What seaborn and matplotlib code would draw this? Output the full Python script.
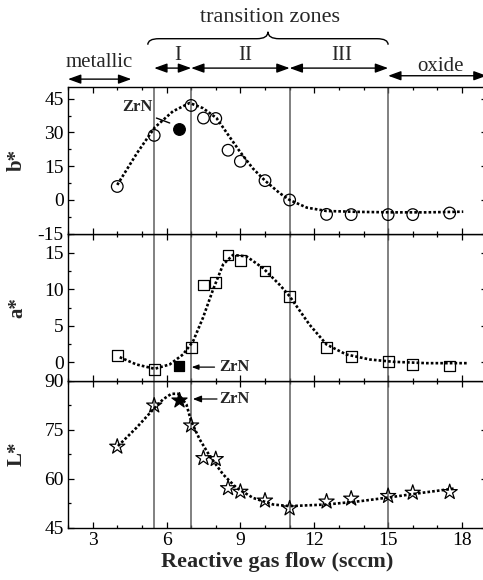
import matplotlib
matplotlib.use("Agg")
import matplotlib.pyplot as plt
import matplotlib.transforms as mtransforms
from matplotlib.path import Path
from matplotlib.patches import PathPatch
from matplotlib.ticker import MultipleLocator
import seaborn as sns

# measured colour coordinates vs reactive gas flow
flow = [4, 5.5, 7, 7.5, 8, 8.5, 9, 10, 11, 12.5, 13.5, 15, 16, 17.5]
b_star = [6.0, 28.7, 42.0, 36.4, 36.2, 22.1, 17.2, 8.6, 0.0, -6.4, -6.5, -6.5, -6.5, -5.8]
a_star = [0.9, -1.0, 2.0, 10.6, 10.9, 14.7, 13.9, 12.5, 9.0, 2.0, 0.8, 0.1, -0.3, -0.5]
L_star = [69.8, 82.4, 76.3, 66.3, 66.0, 57.1, 56.0, 53.3, 50.9, 53.0, 53.9, 54.7, 55.7, 55.9]

# ZrN reference sample
zrn_flow = [6.5]
zrn_b = [31.6]
zrn_a = [-0.5]
zrn_L = [84.2]

# dotted guide curves
b_fit_x = [4.0, 4.8, 5.52, 6.26, 6.94, 7.48, 8.03, 8.5, 8.98, 9.5, 10.0, 10.6, 11.0, 11.7, 12.5, 13.85, 15.2, 16.56, 18.05]
b_fit_y = [6.7, 20.8, 32.2, 39.4, 43.1, 40.8, 36.4, 29.0, 21.5, 14.1, 8.6, 3.0, 0.0, -3.4, -4.9, -5.3, -5.5, -5.5, -5.2]
a_fit_x = [4.1, 4.77, 5.52, 6.13, 6.67, 7.08, 7.48, 7.89, 8.3, 8.7, 9.25, 9.92, 10.6, 11.0, 11.8, 12.5, 13.3, 14.26, 15.2, 16.56, 18.2]
a_fit_y = [0.72, -0.27, -0.87, -0.27, 1.09, 2.9, 6.1, 9.96, 13.4, 14.7, 14.5, 12.9, 10.6, 9.05, 5.2, 2.45, 1.09, 0.4, 0.09, -0.1, -0.1]
L_fit_x = [4.03, 4.78, 5.52, 5.86, 6.2, 6.47, 6.81, 7.0, 7.35, 7.76, 8.3, 8.84, 9.52, 10.33, 11.0, 12.5, 13.85, 15.07, 16.3, 17.7]
L_fit_y = [70, 75.6, 81.7, 84.3, 86, 86, 82.7, 77.6, 72, 66.9, 61.3, 57.2, 54.1, 52.1, 51.6, 52.1, 53.1, 54.3, 55.6, 57]

# zone boundaries
zone_bounds = [5.5, 7, 11, 15]
x_ticks = [3, 6, 9, 12, 15, 18]

sns.set_style("ticks")
plt.rcParams["font.family"] = ["Liberation Serif", "DejaVu Serif"]
plt.rcParams["axes.unicode_minus"] = False

fig = plt.figure(figsize=(4.83, 5.8), dpi=100)
left, width, h = 0.1408, 0.8667, 0.2534
ax_L = fig.add_axes([left, 0.0902, width, h])
ax_a = fig.add_axes([left, 0.0902 + h, width, h])
ax_b = fig.add_axes([left, 0.0902 + 2 * h, width, h])

dots = dict(color="black", linewidth=1.9, linestyle=(0, (1, 0.8)), sort=False, estimator=None)
open_m = dict(facecolor="none", edgecolor="black", linewidth=0.9, legend=False)

panels = [
    (ax_b, b_fit_x, b_fit_y, b_star, zrn_b, "o", 70, "b*", (-15, 50.3), [-15, 0, 15, 30, 45], 7.5),
    (ax_a, a_fit_x, a_fit_y, a_star, zrn_a, "s", 60, "a*", (-2.5, 17.6), [0, 5, 10, 15], 2.5),
    (ax_L, L_fit_x, L_fit_y, L_star, zrn_L, "*", 130, "L*", (45, 90), [45, 60, 75, 90], 7.5),
]

for ax, fx, fy, vals, zv, mk, size, lab, ylim, yt, ymin in panels:
    for xb in zone_bounds:
        ax.axvline(xb, color="#5e5e5e", lw=1.1, zorder=1)
    sns.lineplot(x=fx, y=fy, ax=ax, zorder=2, **dots)
    sns.scatterplot(x=flow, y=vals, ax=ax, marker=mk, s=size, zorder=3, **open_m)
    sns.scatterplot(x=zrn_flow, y=zv, ax=ax, marker=mk, s=size, color="black",
                    edgecolor="black", linewidth=0.9, zorder=3, legend=False)
    ax.set_xlim(2, 19)
    ax.set_ylim(*ylim)
    ax.set_xticks(x_ticks)
    ax.set_yticks(yt)
    ax.xaxis.set_minor_locator(MultipleLocator(1))
    ax.yaxis.set_minor_locator(MultipleLocator(ymin))
    ax.tick_params(which="both", direction="in", top=True, right=True,
                   colors="black", width=0.9, labelsize=14, pad=3)
    ax.tick_params(which="major", length=4.5)
    ax.tick_params(which="minor", length=2.5)
    for sp in ax.spines.values():
        sp.set_color("black")
        sp.set_linewidth(1.0)
    ax.set_ylabel(lab, fontsize=15, fontweight="bold")
    ax.yaxis.set_label_coords(-0.098, 0.5)
    ax.set_xlabel("")

ax_b.tick_params(labelbottom=False)
ax_a.tick_params(labelbottom=False)
ax_L.set_xlabel("Reactive gas flow (sccm)", fontsize=16, fontweight="bold", labelpad=2)

# ZrN annotations
ax_b.text(4.81, 41.2, "ZrN", fontsize=12, fontweight="bold", ha="center", va="center")
ax_b.annotate("", xy=(6.13, 34.2), xytext=(5.59, 36.4),
              arrowprops=dict(arrowstyle="-", color="black", lw=1, shrinkA=0, shrinkB=0))
ax_a.text(8.15, -0.64, "ZrN", fontsize=12, fontweight="bold", ha="left", va="center")
ax_a.annotate("", xy=(7.02, -0.64), xytext=(7.95, -0.64),
              arrowprops=dict(arrowstyle="-|>,head_length=0.4,head_width=0.15", color="black",
                              lw=0.9, shrinkA=0, shrinkB=0))
ax_L.text(8.15, 84.4, "ZrN", fontsize=12, fontweight="bold", ha="left", va="center")
ax_L.annotate("", xy=(7.07, 84.4), xytext=(8.05, 84.4),
              arrowprops=dict(arrowstyle="-|>,head_length=0.5,head_width=0.2", color="black",
                              lw=0.9, shrinkA=0, shrinkB=0))

# zone arrows and labels above the top panel
tr = mtransforms.blended_transform_factory(ax_b.transData, ax_b.transAxes)
arrow_kw = dict(arrowstyle="<|-|>,head_length=0.55,head_width=0.2", color="black",
                lw=1.0, shrinkA=0, shrinkB=0, mutation_scale=14)

def zone_arrow(x0, x1, y):
    ax_b.annotate("", xy=(x1, y), xytext=(x0, y), xycoords=tr, textcoords=tr,
                  arrowprops=arrow_kw, annotation_clip=False)

zone_arrow(2.0, 4.57, 1.052)
zone_arrow(zone_bounds[0], zone_bounds[1], 1.127)
zone_arrow(zone_bounds[1], zone_bounds[2], 1.127)
zone_arrow(zone_bounds[2], zone_bounds[3], 1.127)
zone_arrow(zone_bounds[3], 19.0, 1.075)

for x, y, s in [(3.28, 1.165, "metallic"), (6.44, 1.21, "I"), (9.18, 1.21, "II"),
                (13.1, 1.21, "III"), (17.13, 1.14, "oxide")]:
    ax_b.text(x, y, s, transform=tr, fontsize=15, ha="center", va="center")

ax_b.text(10.2, 1.47, "transition zones", transform=tr, fontsize=16, ha="center", va="center")

# curly brace
x0, x1, xc = 5.24, 15.0, 10.12
y0, ym, yt = 1.286, 1.327, 1.374
d = 0.45
verts = [(x0, y0), (x0, ym), (x0 + d, ym),
         (xc - d, ym), (xc, ym), (xc, yt),
         (xc, ym), (xc + d, ym),
         (x1 - d, ym), (x1, ym), (x1, y0)]
codes = [Path.MOVETO, Path.CURVE3, Path.CURVE3,
         Path.LINETO, Path.CURVE3, Path.CURVE3,
         Path.CURVE3, Path.CURVE3,
         Path.LINETO, Path.CURVE3, Path.CURVE3]
brace = PathPatch(Path(verts, codes), transform=tr, fill=False, edgecolor="black",
                  lw=1.0, clip_on=False)
ax_b.add_patch(brace)

fig.savefig("out.png", dpi=100)
